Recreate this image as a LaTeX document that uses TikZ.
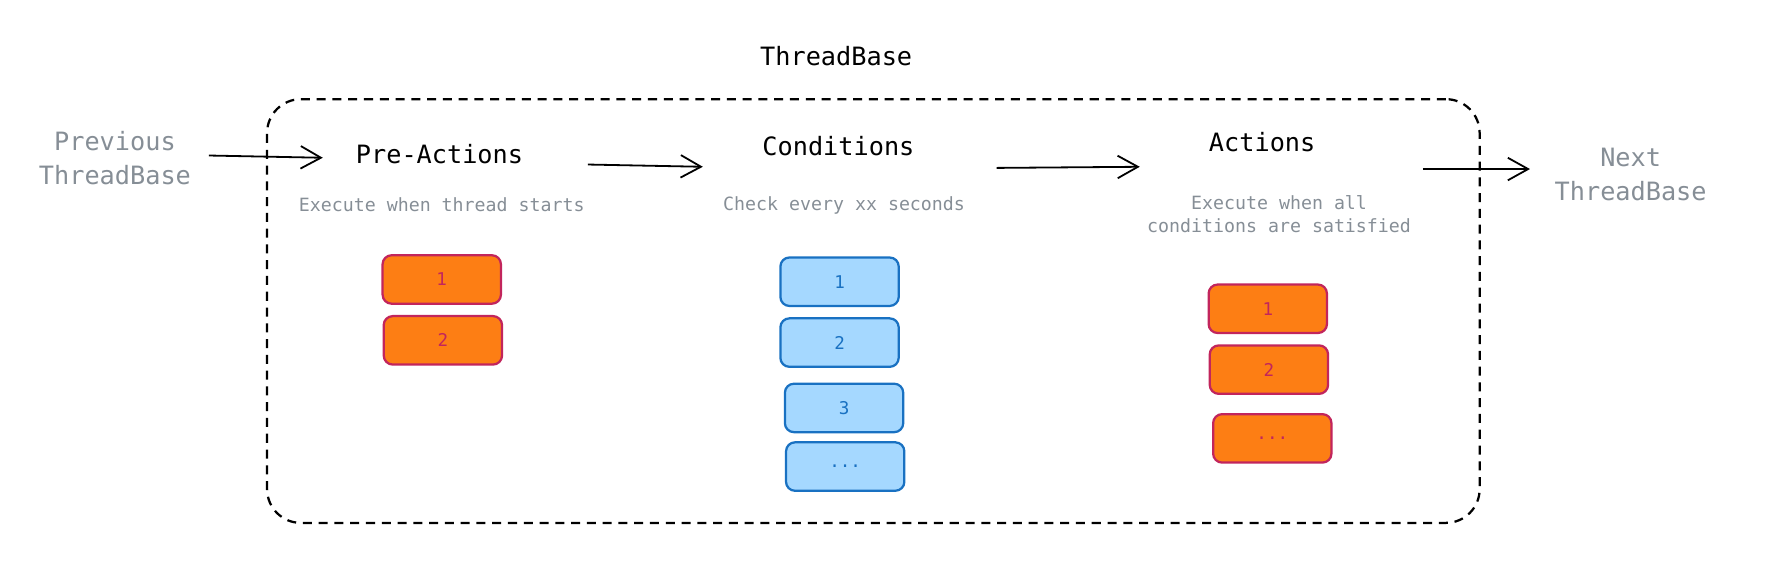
\documentclass[tikz,border=0pt]{standalone}
\usepackage{fontspec}
\setmonofont{DejaVu Sans Mono}
\usetikzlibrary{arrows.meta}
\definecolor{txtgray}{HTML}{868E96}
\definecolor{orfill}{HTML}{FD7E14}
\definecolor{orline}{HTML}{C2255C}
\definecolor{blfill}{HTML}{A5D8FF}
\definecolor{blline}{HTML}{1971C2}
\begin{document}
\begin{tikzpicture}[x=0.5pt,y=-0.5pt,
  big/.style={font=\ttfamily\fontsize{11.2}{15}\selectfont, inner sep=0pt, align=center},
  biggray/.style={big, text=txtgray},
  small/.style={font=\ttfamily\fontsize{8.1}{10.5}\selectfont, text=txtgray, inner sep=0pt, align=center},
  arr/.style={-{Straight Barb[length=9pt,width=10pt,line width=0.8pt]}, line width=0.8pt, black},
  framebox/.style={draw, dash pattern=on 4pt off 3pt, line width=1pt, rounded corners=15pt, minimum width=538pt, minimum height=188pt, inner sep=0pt},
  itembox/.style={line width=1pt, rounded corners=4pt, minimum width=52.5pt, minimum height=21.5pt, inner sep=0pt, font=\ttfamily\fontsize{7.8}{9}\selectfont},
  obox/.style={itembox, draw=orline, fill=orfill, text=orline},
  bbox/.style={itembox, draw=blline, fill=blfill, text=blline}
]
\useasboundingbox (0,0) rectangle (1568,519);
\node[framebox] (frame) at (775,276) {};
\node[big] (title) at (742,50) {ThreadBase};

\node[biggray] (prev) at (102,140) {Previous\\ThreadBase};
\node[big] (pre) at (390,137) {Pre-Actions};
\node[big] (cond) at (744,130) {Conditions};
\node[big] (act) at (1120,126) {Actions};
\node[biggray] (next) at (1447,155) {Next\\ThreadBase};

\node[small] (pred) at (392,182) {Execute when thread starts};
\node[small] (condd) at (749,182) {Check every xx seconds};
\node[small] (actd) at (1135,190) {Execute when all\\conditions are satisfied};

\node[obox] (p1) at (392,248) {1};
\node[obox] (p2) at (393,302) {2};

\node[bbox] (c1) at (745,250) {1};
\node[bbox] (c2) at (745,304) {2};
\node[bbox] (c3) at (749,362) {3};
\node[bbox] (c4) at (750,414) {...};

\node[obox] (a1) at (1125,274) {1};
\node[obox] (a2) at (1126,328) {2};
\node[obox] (a3) at (1129,389) {...};

\draw[arr] ([shift={(15.5,-2)}]prev.east) -- ([shift={(-29,3)}]pre.west);
\draw[arr] ([shift={(57,9)}]pre.east) -- ([shift={(-52.5,18)}]cond.west);
\draw[arr] ([shift={(72.5,19)}]cond.east) -- ([shift={(-61,22)}]act.west);
\draw[arr] ([shift={(95,24)}]act.east) -- ([shift={(-21.5,-5)}]next.west);
\end{tikzpicture}
\end{document}
